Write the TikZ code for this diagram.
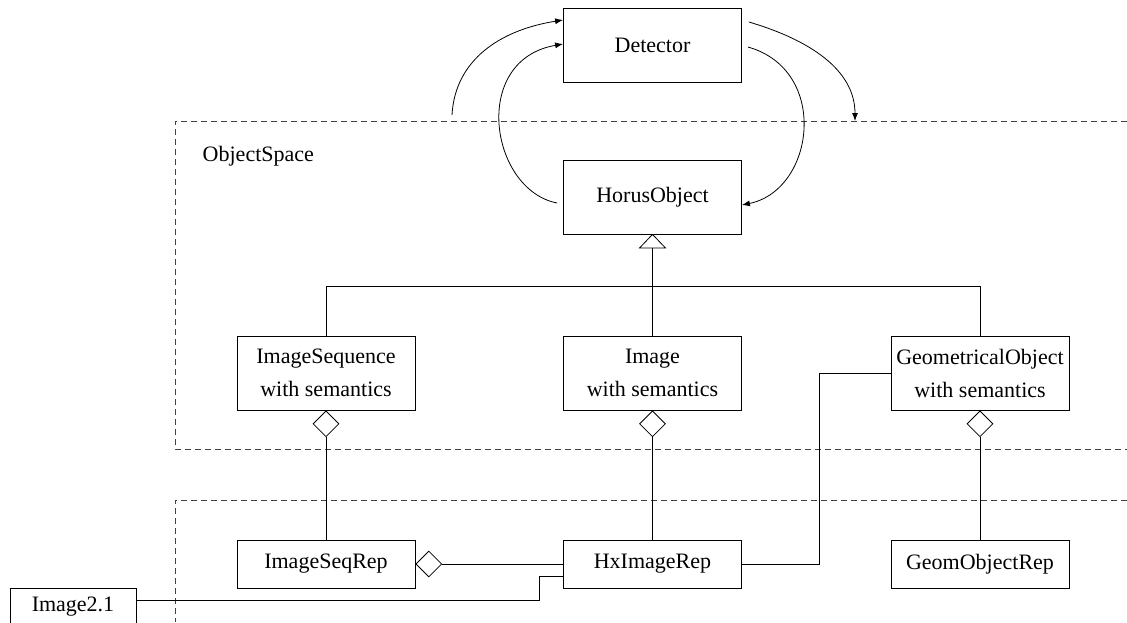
\documentclass[tikz,border=0pt]{standalone}
\usepackage{fontspec}
\setmainfont{Liberation Serif}
\usetikzlibrary{arrows.meta,shapes.geometric}
\begin{document}
\begin{tikzpicture}[x=1pt,y=1pt,line width=0.8pt,
  txt/.style={font=\fontsize{22}{33}\selectfont},
  box/.style={draw,txt,minimum width=178pt,inner sep=0pt,align=center},
  bigbox/.style={box,minimum height=74pt},
  smallbox/.style={box,minimum height=48pt},
  dashbox/.style={draw=black!75,dash pattern=on 6pt off 4pt},
  arr/.style={-{Latex[length=8pt,width=6pt]}},
  dia/.style={draw,fill=white,shape=diamond,minimum width=26pt,minimum height=26pt,inner sep=0pt}]
\clip (0,0) rectangle (1127,-622);
\fill[white] (0,0) rectangle (1127,-622);
% dashed regions
\draw[dashbox] (1127,-121) -- (175,-121) -- (175,-449) -- (1127,-449);
\draw[dashbox] (1127,-500) -- (175,-500) -- (175,-622);
\node[txt,anchor=west] (os) at (199,-156) {ObjectSpace};
% boxes
\node[bigbox] (det) at (652.5,-45.5) {Detector};
\node[bigbox] (horus) at (652.5,-197) {HorusObject};
\node[bigbox] (iseq) at (326,-373) {ImageSequence\\with semantics};
\node[bigbox] (img) at (652.5,-373) {Image\\with semantics};
\node[bigbox] (geo) at (980,-373) {GeometricalObject\\with semantics};
\node[smallbox] (isr) at (326,-564) {ImageSeqRep};
\node[smallbox] (hx) at (652.5,-564) {HxImageRep};
\node[smallbox] (gor) at (980,-564) {GeomObjectRep};
\node[draw,txt,anchor=north,minimum width=126pt,inner xsep=0pt,inner ysep=8pt,text height=15pt,text depth=22pt] (imtwo) at (73,-588) {Image2.1};
% generalization
\coordinate (tribase) at (652.5,-248);
\coordinate (junc) at (652.5,-286);
\draw[fill=white] (horus.south) -- (639.5,-248) -- (665.5,-248) -- cycle;
\draw (tribase) -- (junc);
\draw (iseq.north) |- (junc);
\draw (junc) -| (geo.north);
\draw (img.north) -- (junc);
% aggregations
\node[dia,anchor=north] (d1) at (iseq.south) {};
\node[dia,anchor=north] (d2) at (img.south) {};
\node[dia,anchor=north] (d3) at (geo.south) {};
\node[dia,anchor=west] (d4) at (isr.east) {};
\draw (d1.south) -- (isr.north);
\draw (d2.south) -- (hx.north);
\draw (d3.south) -- (gor.north);
\draw (d4.east) -- (hx.west);
\draw (hx.east) -- ++(77,0) |- (geo.west);
\draw ([yshift=-12pt]imtwo.north east) -| ([xshift=-24pt,yshift=-12pt]hx.west) -- ([yshift=-12pt]hx.west);
% curved arrows
\coordinate (s1) at (452,-115);
\coordinate (e4) at (855,-121);
\draw[arr] (s1) .. controls (455,-60) and (500,-30) .. ([yshift=25.5pt]det.west);
\draw[arr] ([xshift=-6pt,yshift=-6pt]horus.west) .. controls (490,-190) and (470,-60) .. ([yshift=1.5pt]det.west);
\draw[arr] ([xshift=6pt,yshift=-1.5pt]det.east) .. controls (830,-70) and (815,-190) .. ([yshift=-8pt]horus.east);
\draw[arr] ([xshift=7pt,yshift=23.5pt]det.east) .. controls (810,-40) and (855,-70) .. (e4);
\end{tikzpicture}
\end{document}
